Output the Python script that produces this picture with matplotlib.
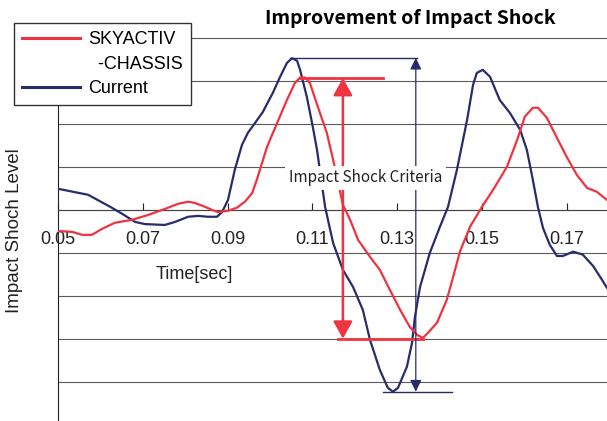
import matplotlib
matplotlib.use('Agg')
import matplotlib.pyplot as plt
from matplotlib.lines import Line2D

# Font: Arial-like for axes text
plt.rcParams['font.family'] = ['Liberation Sans', 'DejaVu Sans']

# Curve "Current" (time in sec, impact shock level in grid units)
current_t = [0.0500, 0.0571, 0.0627, 0.0651, 0.0682, 0.0705, 0.0752, 0.0776, 0.0807, 0.0830,
             0.0854, 0.0875, 0.0887, 0.0901, 0.0917, 0.0934, 0.0948, 0.0965, 0.0983, 0.1007,
             0.1024, 0.1040, 0.1052, 0.1064, 0.1071, 0.1087, 0.1101, 0.1111, 0.1130, 0.1149,
             0.1172, 0.1196, 0.1219, 0.1236, 0.1259, 0.1278, 0.1290, 0.1302, 0.1323, 0.1335,
             0.1342, 0.1354, 0.1377, 0.1401, 0.1420, 0.1441, 0.1465, 0.1479, 0.1488, 0.1502,
             0.1519, 0.1542, 0.1566, 0.1590, 0.1606, 0.1620, 0.1632, 0.1644, 0.1660, 0.1677,
             0.1691, 0.1715, 0.1738, 0.1762, 0.1783, 0.1795]
current_level = [0.49, 0.35, 0.05, -0.09, -0.28, -0.33, -0.35, -0.28, -0.16, -0.14,
                 -0.16, -0.16, -0.05, 0.23, 0.93, 1.51, 1.79, 2.02, 2.27, 2.72,
                 3.09, 3.41, 3.52, 3.46, 3.25, 2.62, 1.93, 1.39, 0.07, -0.77,
                 -1.39, -1.79, -2.32, -3.02, -3.71, -4.13, -4.22, -4.13, -3.64, -3.09,
                 -2.48, -1.79, -1.00, -0.39, 0.07, 0.93, 2.09, 2.90, 3.18, 3.25,
                 3.09, 2.55, 2.25, 1.86, 1.39, 0.70, 0.07, -0.42, -0.81, -1.07,
                 -1.07, -0.97, -1.04, -1.30, -1.62, -1.81]

# Curve "SKYACTIV-CHASSIS"
skyactiv_t = [0.0500, 0.0533, 0.0557, 0.0580, 0.0604, 0.0634, 0.0675, 0.0712, 0.0752, 0.0783,
              0.0807, 0.0823, 0.0847, 0.0863, 0.0877, 0.0901, 0.0922, 0.0941, 0.0958, 0.0969,
              0.0993, 0.1017, 0.1040, 0.1059, 0.1071, 0.1083, 0.1094, 0.1113, 0.1134, 0.1149,
              0.1172, 0.1189, 0.1208, 0.1236, 0.1259, 0.1283, 0.1307, 0.1330, 0.1347, 0.1361,
              0.1373, 0.1394, 0.1417, 0.1432, 0.1448, 0.1472, 0.1500, 0.1526, 0.1559, 0.1583,
              0.1601, 0.1620, 0.1632, 0.1653, 0.1677, 0.1700, 0.1724, 0.1748, 0.1771, 0.1795]
skyactiv_level = [-0.49, -0.51, -0.58, -0.58, -0.44, -0.30, -0.23, -0.12, 0.02, 0.14,
                  0.19, 0.16, 0.07, 0.00, -0.05, -0.02, 0.05, 0.19, 0.39, 0.70,
                  1.46, 2.02, 2.55, 2.95, 3.07, 3.07, 2.95, 2.39, 1.79, 1.16,
                  0.12, -0.23, -0.70, -1.09, -1.39, -1.86, -2.32, -2.72, -2.90, -2.97,
                  -2.85, -2.62, -2.09, -1.56, -0.97, -0.39, 0.07, 0.46, 1.00, 1.62,
                  2.16, 2.37, 2.37, 2.14, 1.67, 1.23, 0.81, 0.51, 0.42, 0.23]

x_ticks = [0.05, 0.07, 0.09, 0.11, 0.13, 0.15, 0.17]
x_tick_labels = ['0.05', '0.07', '0.09', '0.11', '0.13', '0.15', '0.17']
grid_levels = [-4, -3, -2, -1, 0, 1, 2, 3, 4]

# Criteria markers (peak-to-peak ranges)
red_arrow_t = 0.1172
red_top, red_bottom = 3.06, -2.99
red_top_span = [0.1071, 0.1267]
red_bottom_span = [0.1160, 0.1361]
blue_arrow_t = 0.1344
blue_top, blue_bottom = 3.53, -4.22
blue_top_span = [0.1047, 0.1347]
blue_bottom_span = [0.1267, 0.1429]

red = '#ef3340'
blue = '#272c6a'

fig = plt.figure(figsize=(6.07, 4.21), dpi=100)
ax = fig.add_axes([58 / 607, 0.0, 1 - 58 / 607, 0.916])

ax.plot(current_t, current_level, color=blue, lw=1.6, zorder=3)
ax.plot(skyactiv_t, skyactiv_level, color=red, lw=1.6, zorder=3)

# horizontal reference lines of the criteria
ax.plot(red_top_span, [red_top, red_top], color=red, lw=2.0, zorder=3)
ax.plot(red_bottom_span, [red_bottom, red_bottom], color=red, lw=2.0, zorder=3)
ax.plot(blue_top_span, [blue_top, blue_top], color=blue, lw=1.0, zorder=3)
ax.plot(blue_bottom_span, [blue_bottom, blue_bottom], color=blue, lw=1.0, zorder=3)

# double arrows
ax.annotate('', xy=(red_arrow_t, red_bottom), xytext=(red_arrow_t, red_top),
            arrowprops=dict(arrowstyle='<|-|>,head_length=10.5,head_width=5.8', mutation_scale=1,
                            color=red, lw=1.8, shrinkA=0, shrinkB=0), zorder=4)
ax.annotate('', xy=(blue_arrow_t, blue_bottom), xytext=(blue_arrow_t, blue_top),
            arrowprops=dict(arrowstyle='<|-|>,head_length=7,head_width=3.4', mutation_scale=1,
                            color=blue, lw=0.9, shrinkA=0, shrinkB=0), zorder=4)

ax.text(0.1226, 0.74, 'Impact Shock Criteria', ha='center', va='center', fontsize=11,
        family=['Noto Sans CJK JP', 'DejaVu Sans'], color='#222222', zorder=6,
        bbox=dict(boxstyle='square,pad=0.25', fc='white', ec='none'))

ax.text(0.0821, -1.51, 'Time[sec]', ha='center', va='center', fontsize=13, color='#222222')

ax.set_xlim(0.05, 0.1795)
ax.set_ylim(-4.9, 4.05)
ax.set_xticks(x_ticks)
ax.set_xticklabels(x_tick_labels)
ax.set_yticks(grid_levels)
ax.tick_params(axis='x', direction='in', length=5, width=0.8, pad=15, labelsize=13,
               colors='#222222')
ax.tick_params(axis='y', length=0, labelleft=False)
ax.yaxis.grid(True, color='#5a5a5a', lw=0.8)
ax.set_axisbelow(True)

ax.spines['top'].set_visible(False)
ax.spines['right'].set_visible(False)
ax.spines['bottom'].set_position(('data', 0))
ax.spines['bottom'].set_color('#444444')
ax.spines['left'].set_color('#222222')

fig.text(15 / 607, 1 - 231 / 421, 'Impact Shoch Level', rotation=90, ha='center', va='center',
         fontsize=13.5, color='#222222')
fig.text(410 / 607, 1 - 18 / 421, 'Improvement of Impact Shock', ha='center', va='center',
         fontsize=14, fontweight='bold', family=['Noto Sans CJK JP', 'DejaVu Sans'])

handles = [Line2D([], [], color=red, lw=2.2),
           Line2D([], [], color='none'),
           Line2D([], [], color=blue, lw=2.2)]
labels = ['SKYACTIV', '  -CHASSIS', 'Current']
leg = ax.legend(handles, labels, loc='upper left', bbox_to_anchor=(14 / 607, 1 - 23 / 421),
                bbox_transform=fig.transFigure, fancybox=False, framealpha=1,
                edgecolor='#333333', borderaxespad=0, borderpad=0.45, handlelength=3.2,
                handletextpad=0.45, labelspacing=0.42, fontsize=13)
leg.get_frame().set_linewidth(1.0)
leg.set_zorder(10)

plt.savefig('out.png', dpi=100)
